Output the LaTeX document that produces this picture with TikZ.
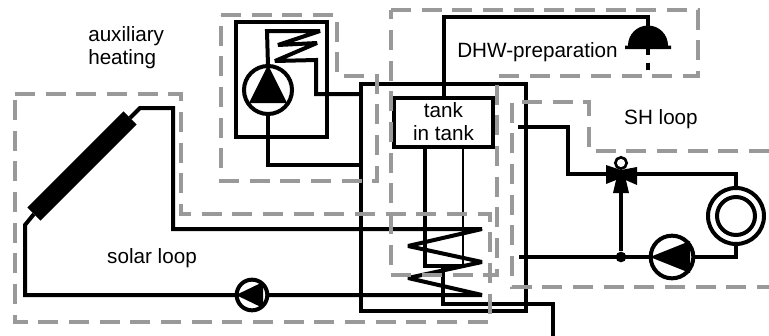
\documentclass[tikz,border=0pt]{standalone}
\usepackage{fontspec}
\setmainfont{Liberation Sans}
\begin{document}
\begin{tikzpicture}[
  x=0.75pt,y=-0.75pt,
  font=\fontsize{15.5}{17.25}\selectfont,
  pipe/.style={line width=3pt,line join=miter,miter limit=2},
  thinpipe/.style={line width=2.2pt},
  loopline/.style={line width=3pt,draw=black!40,dash pattern=on 15pt off 8pt},
  pump/.style={draw,circle,line width=3pt,inner sep=0pt,outer sep=0pt},
  box/.style={draw,line width=3pt,inner sep=0pt,outer sep=0pt},
  label/.style={align=center,inner sep=0pt}
]
\useasboundingbox (0,0) rectangle (769,336);
\node[box,minimum width=123.75pt,minimum height=170.25pt] (tank) at (443.5,197.5) {};
\node[box,minimum width=74.25pt,minimum height=36.75pt,label] (tankin) at (443.5,122) {tank\\in tank};
\node[box,minimum width=68.25pt,minimum height=86.25pt] (auxbox) at (281.5,79.5) {};
\node[pump,minimum size=36pt] (pumpaux) at (268,90) {};
\node[pump,minimum size=23pt] (pumpsolar) at (252,295) {};
\node[pump,minimum size=32pt] (pumpsh) at (672,257) {};
\node[pump,minimum size=42pt] (rad) at (736,216) {};
\node[pump,minimum size=28.5pt] (radin) at (736,216) {};
\node[fill,rotate=45,minimum width=102pt,minimum height=14pt,inner sep=0pt,outer sep=0pt] (collector) at (82,166) {};
\node[fill,circle,minimum size=8pt,inner sep=0pt] (tee) at (621,257) {};
\node[draw,circle,line width=2pt,minimum size=8.5pt,inner sep=0pt] (valvering) at (621,163) {};
\coordinate (valve) at (621,174);
\coordinate (solartop) at (140,108);
\coordinate (solarbot) at (25,225);
\coordinate (coiltop) at (482,229);
\coordinate (coilbot) at (482,295);
\coordinate (bell) at (648,48);
\draw[pipe] (collector.east) -- (solartop) -- (173,108) -- (173,229) -- (coiltop)
  -- (408,246) -- (482,262) -- (408,278) -- (coilbot) -- (pumpsolar.east);
\draw[pipe] (collector.west) -- (solarbot) |- (pumpsolar.west);
\draw[pipe] (pumpaux.north) -- (267,31) -- (320,31) -- (278,45) -- (317,43)
  -- (275,61) -- (316,60) -- (316,94) -- (361,94);
\draw[pipe] (pumpaux.south) |- (361,165);
\draw[pipe] (tankin.north) -- (443.5,17) -- (648,17) -- (bell);
\draw[pipe,dash pattern=on 5.5pt off 5.5pt] (bell) -- (648,75);
\draw[pipe] (425,146) -- (425,266) -- (463,266);
\draw[thinpipe] (463,266) -- (463,146);
\draw[pipe] (443,266) -- (443,304) -- (553,304) -- (553,336);
\draw[pipe] (518,127) -- (568,127) -- (568,174) -- (valve) -| (rad.north);
\draw[pipe] (rad.south) |- (pumpsh.east);
\draw[pipe] (pumpsh.west) -- (519,257);
\draw[pipe] (tee) -- (valve);
\fill (268,65) -- (249,103) -- (287,103) -- cycle;
\fill (236,295) -- (263,282) -- (263,308) -- cycle;
\fill (650,257) -- (690,241) -- (690,273) -- cycle;
\fill (625,49) -- (671,49) -- (671,45.5) -- (668,45.5) arc[start angle=0,end angle=180,radius=15pt] -- (625,45.5) -- cycle;
\fill (621,170) -- (606,165) -- (606,184) -- (621,178) -- cycle;
\fill (621,170) -- (637,167) -- (637,185) -- (621,178) -- cycle;
\fill (617,176) -- (613,193) -- (629,193) -- (625,176) -- cycle;
\draw[loopline] (221,15) -- (337,15) -- (337,76) -- (377,76) -- (377,181) -- (221,181) -- cycle;
\draw[loopline] (15,94) -- (181,94) -- (181,214) -- (490,214) -- (490,322) -- (15,322) -- cycle;
\draw[loopline] (391,10) -- (698,10) -- (698,76) -- (497,76) -- (497,275) -- (391,275) -- cycle;
\draw[loopline] (769,151) -- (589,151) -- (589,102) -- (512,102) -- (512,287) -- (769,287);
\node[label,align=left,anchor=west] (lblaux) at (88,48) {auxiliary\\heating};
\node[label] (lbldhw) at (537.5,52) {DHW-preparation};
\node[label] (lblsh) at (661,119) {SH loop};
\node[label] (lblsolar) at (152,258) {solar loop};
\end{tikzpicture}
\end{document}
